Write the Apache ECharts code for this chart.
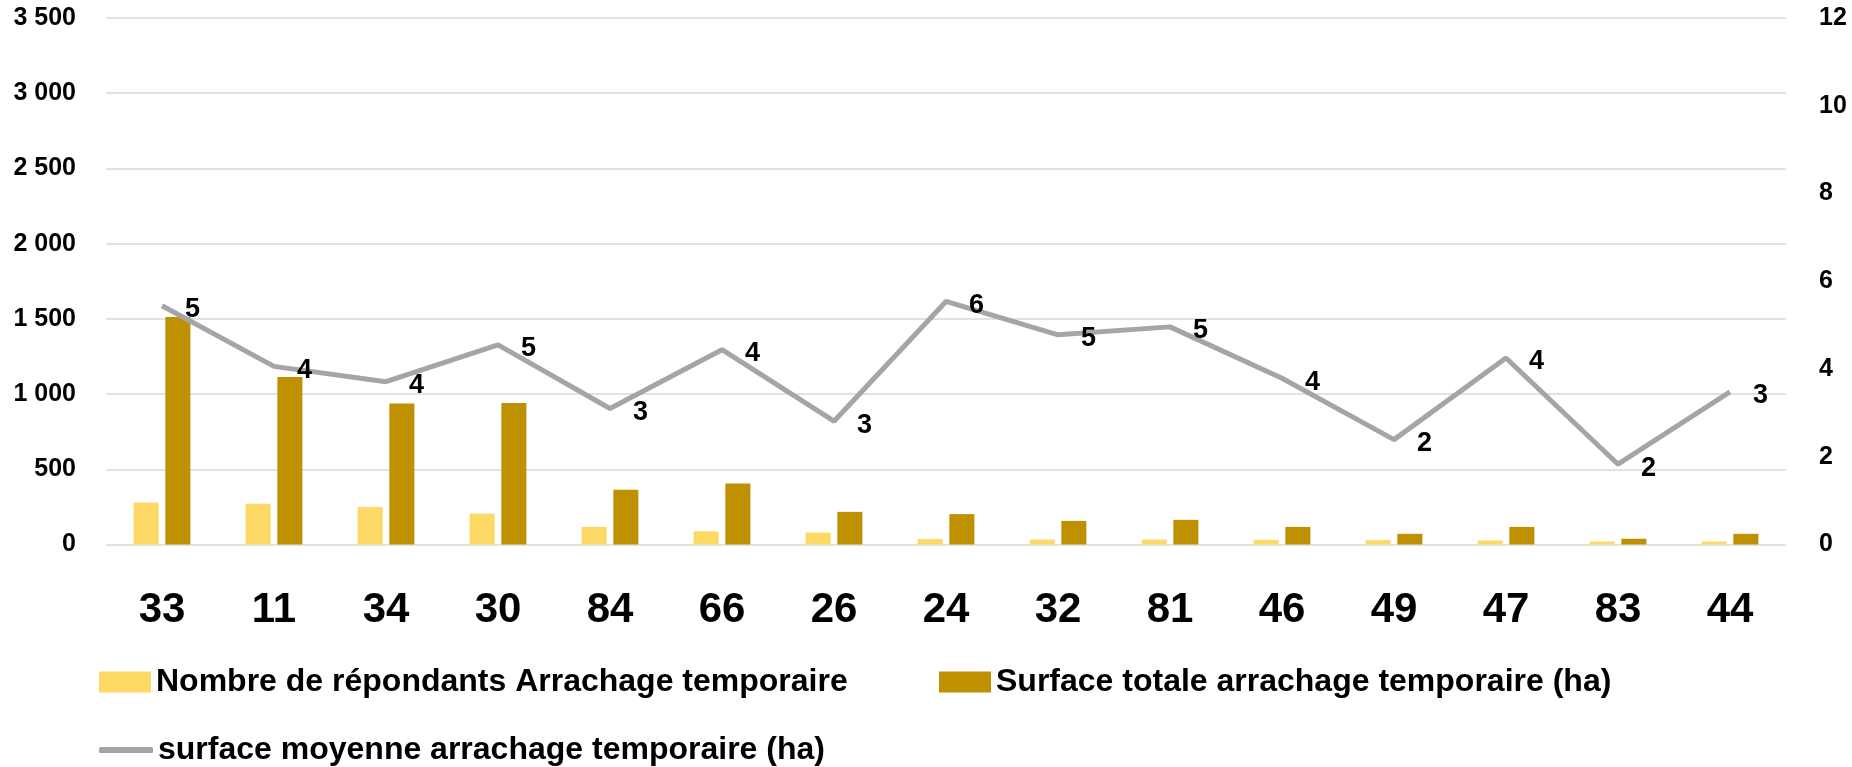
<!DOCTYPE html>
<html>
<head>
<meta charset="utf-8">
<script src="https://cdn.jsdelivr.net/npm/echarts@6/dist/echarts.min.js"></script>
<style>
  html, body { margin: 0; padding: 0; background: #fff; }
  #chart { width: 1852px; height: 767px; }
</style>
</head>
<body>
<div id="chart"></div>
<script>
var categories = ['33', '11', '34', '30', '84', '66', '26', '24', '32', '81', '46', '49', '47', '83', '44'];
var repondants = [279, 271, 250, 205, 117, 88, 79, 36, 33, 33, 31, 29, 27, 20, 20];
var surfaceTotale = [1512, 1114, 938, 940, 364, 405, 217, 202, 157, 164, 117, 71, 117, 38, 71];
var surfaceMoyenne = [5.44, 4.06, 3.71, 4.55, 3.10, 4.44, 2.81, 5.54, 4.78, 4.96, 3.79, 2.39, 4.25, 1.83, 3.48];

var nomRepondants = 'Nombre de répondants Arrachage temporaire';
var nomTotale = 'Surface totale arrachage temporaire (ha)';
var nomMoyenne = 'surface moyenne arrachage temporaire (ha)';

var police = "'Liberation Sans', Arial, sans-serif";

function milliers(v) {
    return String(v).replace(/\B(?=(\d{3})+(?!\d))/g, ' ');
}

var chart = echarts.init(document.getElementById('chart'));

var legendeTexte = { fontFamily: police, fontWeight: 'bold', fontSize: 32, color: '#000' };

var option = {
    animation: false,
    textStyle: { fontFamily: police, fontWeight: 'bold', color: '#000' },
    grid: { left: 106, right: 66, top: 18, bottom: 222.5, containLabel: false },
    legend: [
        {
            data: [nomRepondants], left: 94, top: 661,
            icon: 'rect', itemWidth: 52, itemHeight: 21,
            textStyle: legendeTexte
        },
        {
            data: [nomTotale], left: 934, top: 661,
            icon: 'rect', itemWidth: 52, itemHeight: 21,
            textStyle: legendeTexte
        },
        {
            data: [nomMoyenne], left: 94, top: 729,
            icon: 'roundRect', itemWidth: 54, itemHeight: 6,
            textStyle: legendeTexte
        }
    ],
    xAxis: {
        type: 'category',
        data: categories,
        axisLine: { show: false },
        axisTick: { show: false },
        axisLabel: { fontSize: 42, fontWeight: 'bold', color: '#000', margin: 45, fontFamily: police }
    },
    yAxis: [
        {
            type: 'value', min: 0, max: 3500, interval: 500,
            axisLine: { show: false }, axisTick: { show: false },
            splitLine: { lineStyle: { color: '#D9D9D9', width: 1.5 } },
            axisLabel: { fontSize: 25, fontWeight: 'bold', color: '#000', margin: 30, fontFamily: police, formatter: milliers }
        },
        {
            type: 'value', min: 0, max: 12, interval: 2,
            axisLine: { show: false }, axisTick: { show: false },
            splitLine: { show: false },
            axisLabel: { fontSize: 25, fontWeight: 'bold', color: '#000', margin: 33, fontFamily: police }
        }
    ],
    series: [
        {
            name: nomRepondants, type: 'bar', data: repondants,
            barWidth: 25, barGap: '27%',
            itemStyle: { color: '#FFD966' }
        },
        {
            name: nomTotale, type: 'bar', data: surfaceTotale,
            barWidth: 25,
            itemStyle: { color: '#BF9000' }
        },
        {
            name: nomMoyenne, type: 'line', yAxisIndex: 1, data: surfaceMoyenne,
            symbol: 'circle', symbolSize: 0.1, showSymbol: true, z: 5,
            lineStyle: { color: '#A5A5A5', width: 5 },
            itemStyle: { color: '#A5A5A5' },
            label: {
                show: true, position: 'right', distance: 23, offset: [0, 4],
                fontSize: 27, fontWeight: 'bold', color: '#000', fontFamily: police,
                formatter: function (p) { return Math.round(p.value); }
            }
        }
    ]
};

chart.setOption(option);
</script>
</body>
</html>
